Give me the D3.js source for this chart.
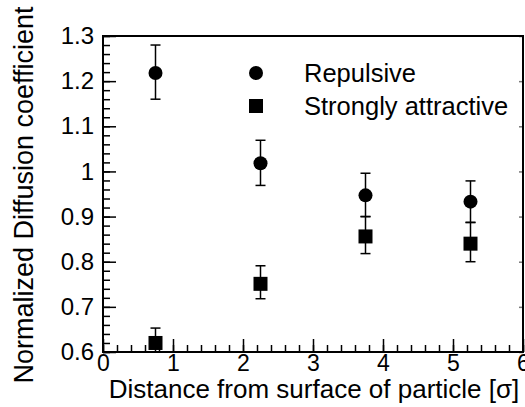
<!DOCTYPE html>
<html>
<head>
<meta charset="utf-8">
<script src="https://cdn.jsdelivr.net/npm/d3@7"></script>
<style>
  body { margin: 0; background: #fff; }
  text { font-family: "Liberation Sans", Arial, sans-serif; fill: #000; }
</style>
</head>
<body>
<svg width="525" height="407"></svg>
<script>
// data
var distance = [0.75, 2.25, 3.75, 5.25];
var repulsive = [1.218, 1.018, 0.947, 0.933];
var repulsiveLo = [1.16, 0.969, 0.90, 0.887];
var repulsiveHi = [1.28, 1.069, 0.996, 0.979];
var attractive = [0.62, 0.751, 0.856, 0.84];
var attractiveLo = [0.56, 0.718, 0.818, 0.80];
var attractiveHi = [0.653, 0.791, 0.90, 0.887];
var xTicks = [0, 1, 2, 3, 4, 5, 6];
var yTicks = [0.6, 0.7, 0.8, 0.9, 1, 1.1, 1.2, 1.3];
var seriesNames = ["Repulsive", "Strongly attractive"];

var plotLeft = 103, plotRight = 523, plotTop = 36, plotBottom = 352;

var svg = d3.select("svg");

var x = d3.scaleLinear().domain([0, 6]).range([plotLeft, plotRight]);
var y = d3.scaleLinear().domain([0.6, 1.3]).range([plotBottom, plotTop]);

svg.append("clipPath").attr("id", "plotclip")
    .append("rect")
    .attr("x", plotLeft).attr("y", plotTop)
    .attr("width", plotRight - plotLeft).attr("height", plotBottom - plotTop);

// minor ticks, inward
var xMinor = d3.range(0, 6.0001, 0.2);
var yMinor = d3.range(0.6, 1.3001, 0.02);

svg.append("g").attr("transform", "translate(0," + plotBottom + ")")
    .call(d3.axisTop(x).tickValues(xMinor).tickSize(7).tickFormat(""))
    .call(function(g) { g.select(".domain").remove(); });
svg.append("g").attr("transform", "translate(" + plotLeft + ",0)")
    .call(d3.axisRight(y).tickValues(yMinor).tickSize(7).tickFormat(""))
    .call(function(g) { g.select(".domain").remove(); });

// major ticks + labels
var xAxis = svg.append("g").attr("transform", "translate(0," + plotBottom + ")")
    .call(d3.axisBottom(x).tickValues(xTicks).tickSize(0).tickPadding(3).tickFormat(d3.format("d")));
xAxis.select(".domain").remove();
xAxis.selectAll("text").style("font-size", "23px");
svg.append("g").attr("transform", "translate(0," + plotBottom + ")")
    .call(d3.axisTop(x).tickValues(xTicks).tickSize(13).tickFormat(""))
    .call(function(g) { g.select(".domain").remove(); });

var yAxis = svg.append("g").attr("transform", "translate(" + plotLeft + ",0)")
    .call(d3.axisLeft(y).tickValues(yTicks).tickSize(0).tickPadding(9)
        .tickFormat(function(d) { return String(+d.toFixed(1)); }));
yAxis.select(".domain").remove();
yAxis.selectAll("text").style("font-size", "24px");
svg.append("g").attr("transform", "translate(" + plotLeft + ",0)")
    .call(d3.axisRight(y).tickValues(yTicks).tickSize(13).tickFormat(""))
    .call(function(g) { g.select(".domain").remove(); });

// small ticks on the right side
svg.append("g").attr("transform", "translate(" + plotRight + ",0)")
    .call(d3.axisLeft(y).tickValues(yTicks).tickSize(4).tickFormat(""))
    .call(function(g) { g.select(".domain").remove(); })
    .selectAll("line").attr("stroke", "#777");

svg.selectAll(".tick line").attr("stroke-width", 1.5);

// frame
svg.append("rect")
    .attr("x", plotLeft).attr("y", plotTop)
    .attr("width", plotRight - plotLeft).attr("height", plotBottom - plotTop)
    .attr("fill", "none").attr("stroke", "#000").attr("stroke-width", 2);

// error bars
function errorBars(lo, hi) {
    var g = svg.append("g").attr("clip-path", "url(#plotclip)")
        .attr("stroke", "#000").attr("stroke-width", 1.5);
    distance.forEach(function(d, i) {
        g.append("line").attr("x1", x(d)).attr("x2", x(d))
            .attr("y1", y(lo[i])).attr("y2", y(hi[i]));
        [lo[i], hi[i]].forEach(function(v) {
            g.append("line").attr("x1", x(d) - 5).attr("x2", x(d) + 5)
                .attr("y1", y(v)).attr("y2", y(v));
        });
    });
}
errorBars(repulsiveLo, repulsiveHi);
errorBars(attractiveLo, attractiveHi);

svg.append("g").selectAll("circle")
    .data(repulsive).enter().append("circle")
    .attr("cx", function(d, i) { return x(distance[i]); })
    .attr("cy", function(d) { return y(d); })
    .attr("r", 7)
    .attr("fill", "#000");

svg.append("g").selectAll("rect")
    .data(attractive).enter().append("rect")
    .attr("x", function(d, i) { return x(distance[i]) - 7; })
    .attr("y", function(d) { return y(d) - 7; })
    .attr("width", 14).attr("height", 14)
    .attr("fill", "#000");

// legend
var legend = svg.append("g");
legend.append("circle").attr("cx", 256).attr("cy", 73).attr("r", 7).attr("fill", "#000");
legend.append("rect").attr("x", 249).attr("y", 99).attr("width", 14).attr("height", 14).attr("fill", "#000");
legend.selectAll("text").data(seriesNames).enter().append("text")
    .attr("x", 304)
    .attr("y", function(d, i) { return 82 + i * 33; })
    .style("font-size", "25.5px")
    .text(function(d) { return d; });

// axis titles
svg.append("text")
    .attr("x", 314).attr("y", 398)
    .attr("text-anchor", "middle")
    .style("font-size", "26px")
    .text("Distance from surface of particle [σ]");

svg.append("text")
    .attr("transform", "translate(33,195) rotate(-90)")
    .attr("text-anchor", "middle")
    .style("font-size", "27px")
    .text("Normalized Diffusion coefficient");
</script>
</body>
</html>
